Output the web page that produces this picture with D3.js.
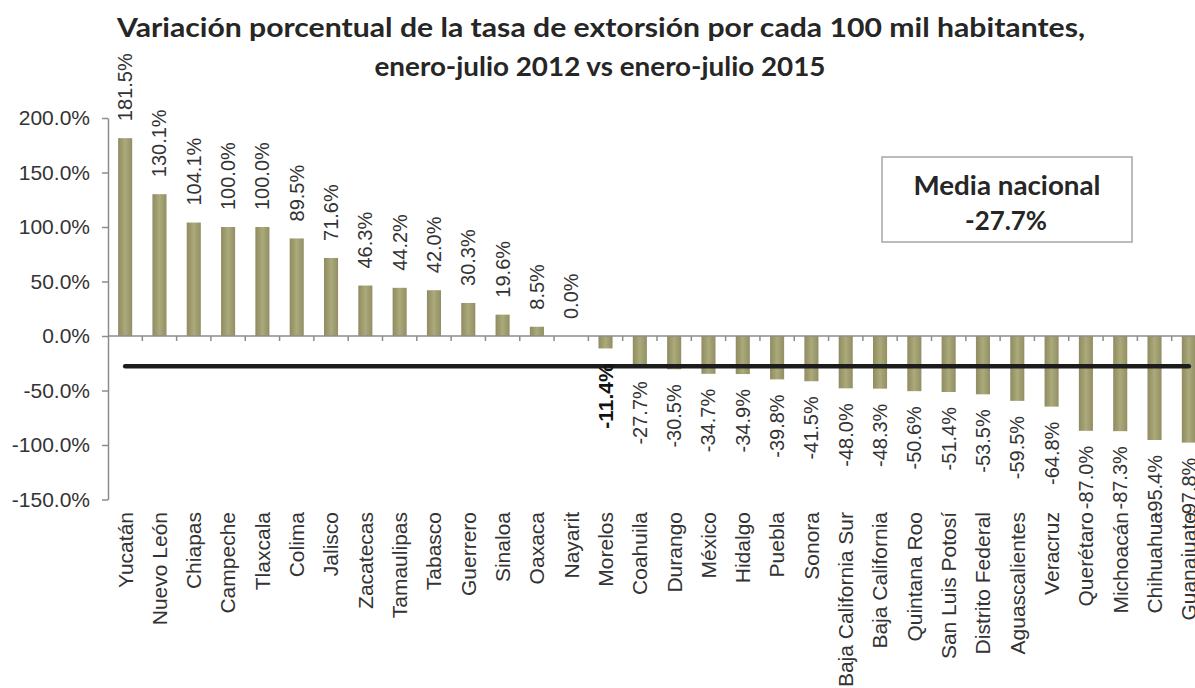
<!DOCTYPE html>
<html>
<head>
<meta charset="utf-8">
<script src="https://cdn.jsdelivr.net/npm/d3@7"></script>
<style>
  body { margin: 0; background: #fff; }
  svg { display: block; }
</style>
</head>
<body>
<svg width="1195" height="688"></svg>
<script>
// datos: variacion porcentual por estado, ene-jul 2012 vs ene-jul 2015
const estados = [
  "Yucatán", "Nuevo León", "Chiapas", "Campeche", "Tlaxcala", "Colima",
  "Jalisco", "Zacatecas", "Tamaulipas", "Tabasco", "Guerrero", "Sinaloa",
  "Oaxaca", "Nayarit", "Morelos", "Coahuila", "Durango", "México",
  "Hidalgo", "Puebla", "Sonora", "Baja California Sur", "Baja California",
  "Quintana Roo", "San Luis Potosí", "Distrito Federal", "Aguascalientes",
  "Veracruz", "Querétaro", "Michoacán", "Chihuahua", "Guanajuato"
];
const variacion = [
  181.5, 130.1, 104.1, 100.0, 100.0, 89.5, 71.6, 46.3, 44.2, 42.0, 30.3,
  19.6, 8.5, 0.0, -11.4, -27.7, -30.5, -34.7, -34.9, -39.8, -41.5, -48.0,
  -48.3, -50.6, -51.4, -53.5, -59.5, -64.8, -87.0, -87.3, -95.4, -97.8
];
const mediaNacional = -27.7;
const destacado = "Morelos";
const yTicks = [200, 150, 100, 50, 0, -50, -100, -150];
const titulo = [
  "Variación porcentual de la tasa de extorsión por cada 100 mil habitantes,",
  "enero-julio 2012 vs enero-julio 2015"
];

const svg = d3.select("svg");
const fontLabel = "'Liberation Sans', Arial, sans-serif";
const fontTitle = "Lato, 'Open Sans', sans-serif";

// scales
const x = d3.scaleBand()
  .domain(estados)
  .range([108, 1206])
  .paddingInner(0.59)
  .paddingOuter(0.295);
const y = d3.scaleLinear().domain([-150, 200]).range([499.5, 118]);
const cx = (d) => x(d) + x.bandwidth() / 2;

// bar gradient
const grad = svg.append("defs").append("linearGradient")
  .attr("id", "barra").attr("x1", "0").attr("x2", "1").attr("y1", "0").attr("y2", "0");
grad.append("stop").attr("offset", "0%").attr("stop-color", "#8e8b61");
grad.append("stop").attr("offset", "50%").attr("stop-color", "#abaa7a");
grad.append("stop").attr("offset", "100%").attr("stop-color", "#918e65");

// title
svg.append("g")
  .selectAll("text")
  .data(titulo)
  .enter()
  .append("text")
  .attr("x", (d, i) => (i === 0 ? 601 : 600))
  .attr("y", (d, i) => (i === 0 ? 37 : 76))
  .attr("text-anchor", "middle")
  .attr("textLength", (d, i) => (i === 0 ? 968 : 451))
  .attr("lengthAdjust", "spacingAndGlyphs")
  .style("font-family", fontTitle)
  .style("font-weight", "bold")
  .style("font-size", "27px")
  .style("fill", "#262626")
  .text((d) => d);

// y axis
const yAxis = d3.axisLeft(y)
  .tickValues(yTicks)
  .tickFormat((d) => d.toFixed(1) + "%")
  .tickSizeInner(6)
  .tickSizeOuter(0)
  .tickPadding(12);
const gy = svg.append("g").attr("transform", "translate(108,0)").call(yAxis);
gy.select(".domain").attr("stroke", "#8c8c8c").attr("stroke-width", 1.5);
gy.selectAll(".tick line").attr("stroke", "#8c8c8c").attr("stroke-width", 1.5);
gy.selectAll(".tick text")
  .style("font-family", fontLabel)
  .style("font-size", "21px")
  .style("fill", "#333");

// bars
svg.append("g")
  .selectAll("rect")
  .data(estados)
  .enter()
  .append("rect")
  .attr("x", (d) => x(d))
  .attr("width", x.bandwidth())
  .attr("y", (d, i) => y(Math.max(0, variacion[i])))
  .attr("height", (d, i) => Math.abs(y(variacion[i]) - y(0)))
  .attr("fill", "url(#barra)");

// zero line with category separators
const g0 = svg.append("g");
g0.append("line")
  .attr("x1", 108).attr("x2", 1206)
  .attr("y1", y(0)).attr("y2", y(0))
  .attr("stroke", "#8c8c8c").attr("stroke-width", 1.5);
g0.selectAll(".sep")
  .data(estados)
  .enter()
  .append("line")
  .attr("class", "sep")
  .attr("x1", (d) => cx(d) + x.step() / 2)
  .attr("x2", (d) => cx(d) + x.step() / 2)
  .attr("y1", y(0)).attr("y2", y(0) + 5)
  .attr("stroke", "#8c8c8c").attr("stroke-width", 1.5);

// national mean line
const linea = d3.line().x((d) => cx(d)).y(() => y(mediaNacional));
svg.append("path")
  .datum(estados)
  .attr("d", linea)
  .attr("fill", "none")
  .attr("stroke", "#1c1c1c")
  .attr("stroke-width", 4.5)
  .attr("stroke-linecap", "round");

// value labels
svg.append("g")
  .selectAll("text")
  .data(estados)
  .enter()
  .append("text")
  .attr("transform", (d, i) => {
    const v = variacion[i];
    const yy = v >= 0 ? y(v) - 17 : y(v) + 15;
    return "translate(" + cx(d) + "," + yy + ") rotate(-90)";
  })
  .attr("dy", "0.35em")
  .attr("text-anchor", (d, i) => (variacion[i] >= 0 ? "start" : "end"))
  .style("font-family", fontLabel)
  .style("font-size", (d) => (d === destacado ? "21px" : "20px"))
  .style("font-weight", (d) => (d === destacado ? "bold" : "normal"))
  .style("fill", (d) => (d === destacado ? "#111" : "#333"))
  .text((d, i) => variacion[i].toFixed(1) + "%");

// category labels
const xAxis = d3.axisBottom(x).tickSize(0);
const gx = svg.append("g").attr("transform", "translate(0,512)").call(xAxis);
gx.select(".domain").remove();
gx.selectAll(".tick text")
  .attr("x", 0)
  .attr("y", 0)
  .attr("dy", "0.35em")
  .attr("transform", "rotate(-90)")
  .style("text-anchor", "end")
  .style("font-family", fontLabel)
  .style("font-size", "21px")
  .style("fill", "#333");

// mean box
const caja = svg.append("g");
caja.append("rect")
  .attr("x", 882).attr("y", 157)
  .attr("width", 250).attr("height", 85)
  .attr("fill", "#fff")
  .attr("stroke", "#a6a6a6").attr("stroke-width", 1.5);
caja.append("text")
  .attr("x", 1007).attr("y", 195)
  .attr("text-anchor", "middle")
  .attr("textLength", 187)
  .attr("lengthAdjust", "spacingAndGlyphs")
  .style("font-family", fontTitle)
  .style("font-weight", "bold")
  .style("font-size", "26px")
  .style("fill", "#262626")
  .text("Media nacional");
caja.append("text")
  .attr("x", 1006).attr("y", 230)
  .attr("text-anchor", "middle")
  .attr("textLength", 82)
  .attr("lengthAdjust", "spacingAndGlyphs")
  .style("font-family", fontTitle)
  .style("font-weight", "bold")
  .style("font-size", "26px")
  .style("fill", "#262626")
  .text(mediaNacional.toFixed(1) + "%");
</script>
</body>
</html>
